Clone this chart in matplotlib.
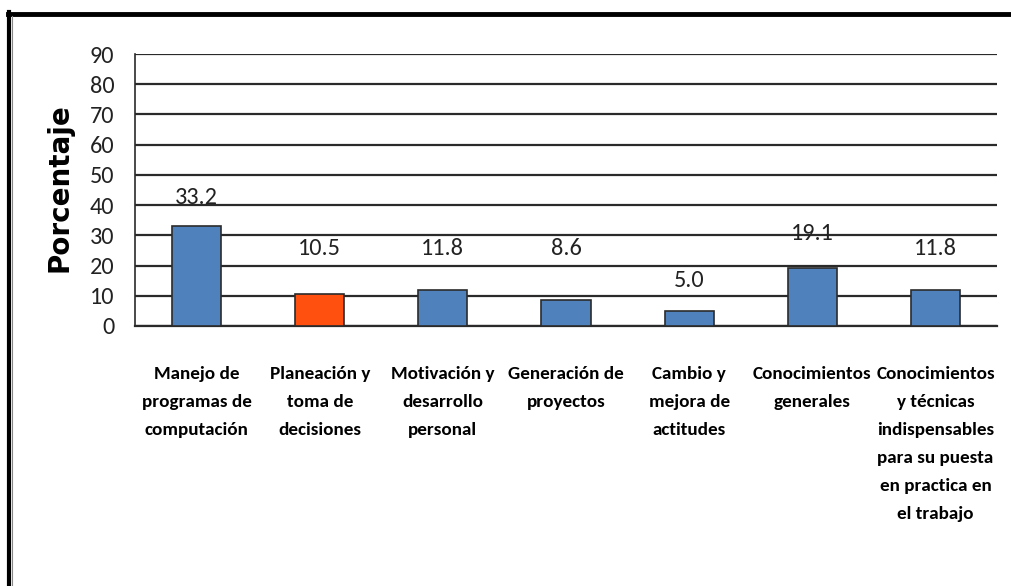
import matplotlib.pyplot as plt
from matplotlib.lines import Line2D

# datos
categorias = ['Manejo de\nprogramas de\ncomputación',
              'Planeación y\ntoma de\ndecisiones',
              'Motivación y\ndesarrollo\npersonal',
              'Generación de\nproyectos',
              'Cambio y\nmejora de\nactitudes',
              'Conocimientos\ngenerales',
              'Conocimientos\ny técnicas\nindispensables\npara su puesta\nen practica en\nel trabajo']
porcentajes = [33.2, 10.5, 11.8, 8.6, 5.0, 19.1, 11.8]
etiquetas = ['33.2', '10.5', '11.8', '8.6', '5.0', '19.1', '11.8']

# altura de las etiquetas (como quedaron en el original)
pos_etiquetas = [42.4, 25.8, 25.8, 25.8, 15.2, 30.5, 25.8]
colores = ['#4F81BD', '#FF5010', '#4F81BD', '#4F81BD', '#4F81BD', '#4F81BD', '#4F81BD']

calibri = ['Carlito', 'DejaVu Sans']

fig = plt.figure(figsize=(10.11, 5.86), dpi=100)
ax = fig.add_axes([0.1335, 0.4437, 0.8527, 0.4641])

x = range(len(porcentajes))
ax.bar(x, porcentajes, width=0.4, color=colores, edgecolor='#2b2b2b', linewidth=1.2, zorder=3)

for i in x:
    ax.text(i, pos_etiquetas[i], etiquetas[i], ha='center', va='center',
            fontsize=17.5, family=calibri, color='#222222', zorder=4)

ax.set_ylim(0, 90)
ax.set_xlim(-0.5, len(porcentajes) - 0.5)
ax.set_yticks(range(0, 100, 10))
ax.yaxis.grid(True, color='#2a2a2a', linewidth=1.6, zorder=0)
ax.set_axisbelow(True)

ax.set_xticks(list(x))
ax.set_xticklabels(categorias, fontsize=13.8, family=calibri, fontweight='bold', linespacing=1.92)
for lbl in ax.get_yticklabels():
    lbl.set_family(calibri)
    lbl.set_fontsize(17.5)
    lbl.set_color('#222222')
ax.tick_params(axis='y', length=0, pad=15)
ax.tick_params(axis='x', length=0, pad=29)

for s in ['top', 'right']:
    ax.spines[s].set_visible(False)
ax.spines['left'].set_color('#2a2a2a')
ax.spines['bottom'].set_color('#2a2a2a')
ax.spines['left'].set_linewidth(1.2)
ax.spines['bottom'].set_linewidth(1.6)

fig.text(0.059, 1 - 188 / 586, 'Porcentaje', rotation=90, ha='center', va='center',
         fontsize=20, fontweight='bold', family='DejaVu Sans')

# marco
fig.add_artist(Line2D([8 / 1011, 1], [1 - 14 / 586, 1 - 14 / 586], color='black', linewidth=3.5))
fig.add_artist(Line2D([8.5 / 1011, 8.5 / 1011], [0, 1 - 12 / 586], color='black', linewidth=3.0))
fig.add_artist(Line2D([11.5 / 1011, 11.5 / 1011], [0, 1 - 16 / 586], color='#888888', linewidth=0.8))

plt.savefig('out.png', dpi=100)
